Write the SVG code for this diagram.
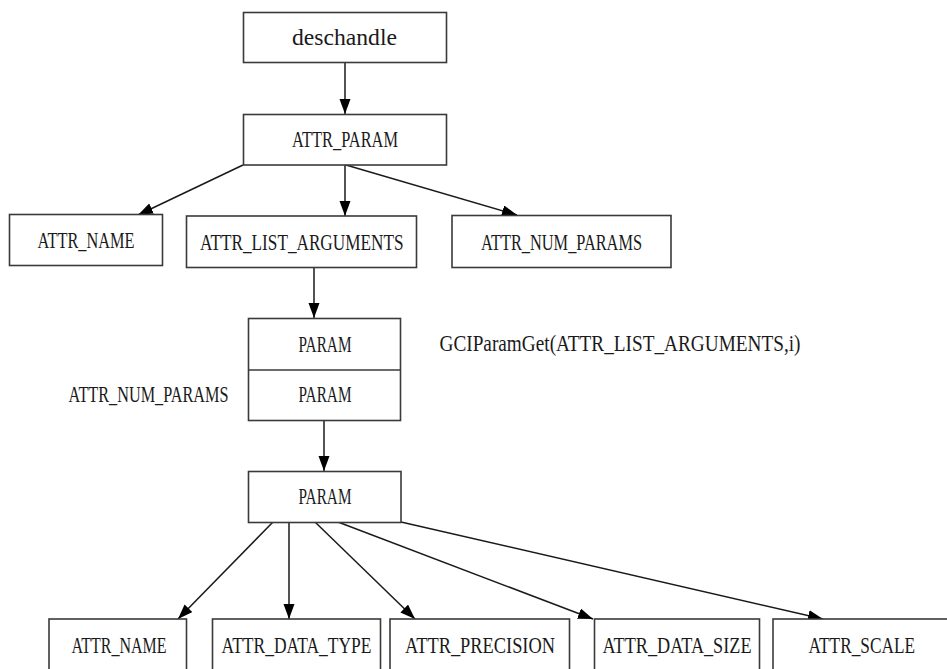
<svg xmlns="http://www.w3.org/2000/svg" width="947" height="669" viewBox="0 0 947 669">
<style>
.box{fill:#fff;stroke:#3a3a3a;stroke-width:1.6}
.t{font-family:"Liberation Serif","Times New Roman",serif;font-size:22.5px;fill:#1a1a1a}
.c{stroke:#1a1a1a;stroke-width:1.5;fill:none;marker-end:url(#ah)}
</style>
<defs>
<marker id="ah" markerUnits="userSpaceOnUse" markerWidth="16" markerHeight="12" refX="15" refY="5.5" orient="auto">
<path d="M0,0 L15,5.5 L0,11 z" fill="#000"/>
</marker>
</defs>
<rect width="947" height="669" fill="#fff"/>
<g id="connectors">
<line class="c" x1="345" y1="63" x2="345" y2="114"/>
<line class="c" x1="243" y1="165" x2="138" y2="215"/>
<line class="c" x1="345" y1="165" x2="345" y2="216"/>
<line class="c" x1="346" y1="165" x2="517" y2="215"/>
<line class="c" x1="314" y1="268" x2="314" y2="318"/>
<line class="c" x1="324" y1="421" x2="324" y2="471"/>
<line class="c" x1="273" y1="522" x2="178" y2="619"/>
<line class="c" x1="289" y1="522" x2="289" y2="619"/>
<line class="c" x1="315" y1="522" x2="415" y2="619"/>
<line class="c" x1="338" y1="522" x2="593" y2="619"/>
<line class="c" x1="401" y1="522" x2="823" y2="619"/>
</g>
<g id="n-deschandle">
<rect class="box" x="243.5" y="12.5" width="203" height="50"/>
<text class="t" x="292" y="45" textLength="105" lengthAdjust="spacingAndGlyphs">deschandle</text>
</g>
<g id="n-attr-param">
<rect class="box" x="243.5" y="114.5" width="203" height="50.5"/>
<text class="t" x="292" y="147" textLength="106" lengthAdjust="spacingAndGlyphs">ATTR_PARAM</text>
</g>
<g id="n-attr-name-1">
<rect class="box" x="9.5" y="214.5" width="153" height="51"/>
<text class="t" x="37.5" y="247.5" textLength="97" lengthAdjust="spacingAndGlyphs">ATTR_NAME</text>
</g>
<g id="n-attr-list-arguments">
<rect class="box" x="186.5" y="216" width="230" height="51.5"/>
<text class="t" x="200" y="249.5" textLength="203.5" lengthAdjust="spacingAndGlyphs">ATTR_LIST_ARGUMENTS</text>
</g>
<g id="n-attr-num-params-1">
<rect class="box" x="452" y="215.5" width="219" height="52"/>
<text class="t" x="481" y="250" textLength="161" lengthAdjust="spacingAndGlyphs">ATTR_NUM_PARAMS</text>
</g>
<g id="n-param-array">
<rect class="box" x="248.5" y="318.5" width="152" height="102"/>
<line x1="248.5" y1="370" x2="400.5" y2="370" stroke="#3a3a3a" stroke-width="1.6"/>
<text class="t" x="298.5" y="352" textLength="53" lengthAdjust="spacingAndGlyphs">PARAM</text>
<text class="t" x="298.5" y="402" textLength="53" lengthAdjust="spacingAndGlyphs">PARAM</text>
</g>
<g id="label-num-params">
<text class="t" x="68.5" y="402" textLength="160" lengthAdjust="spacingAndGlyphs">ATTR_NUM_PARAMS</text>
</g>
<g id="label-paramget">
<text class="t" x="439.5" y="351" textLength="361" lengthAdjust="spacingAndGlyphs">GCIParamGet(ATTR_LIST_ARGUMENTS,i)</text>
</g>
<g id="n-param">
<rect class="box" x="248.5" y="471.5" width="152.5" height="51"/>
<text class="t" x="298.5" y="504" textLength="53" lengthAdjust="spacingAndGlyphs">PARAM</text>
</g>
<g id="n-attr-name-2">
<rect class="box" x="49" y="619" width="137.5" height="70"/>
<text class="t" x="71.5" y="652.5" textLength="95" lengthAdjust="spacingAndGlyphs">ATTR_NAME</text>
</g>
<g id="n-attr-data-type">
<rect class="box" x="212.5" y="619" width="168" height="70"/>
<text class="t" x="221.5" y="652.5" textLength="150" lengthAdjust="spacingAndGlyphs">ATTR_DATA_TYPE</text>
</g>
<g id="n-attr-precision">
<rect class="box" x="390" y="619" width="179.5" height="70"/>
<text class="t" x="405" y="652.5" textLength="150" lengthAdjust="spacingAndGlyphs">ATTR_PRECISION</text>
</g>
<g id="n-attr-data-size">
<rect class="box" x="594.5" y="619" width="165" height="70"/>
<text class="t" x="602.5" y="652.5" textLength="149" lengthAdjust="spacingAndGlyphs">ATTR_DATA_SIZE</text>
</g>
<g id="n-attr-scale">
<rect class="box" x="773" y="619" width="190" height="70"/>
<text class="t" x="808.5" y="652.5" textLength="106.5" lengthAdjust="spacingAndGlyphs">ATTR_SCALE</text>
</g>
</svg>
